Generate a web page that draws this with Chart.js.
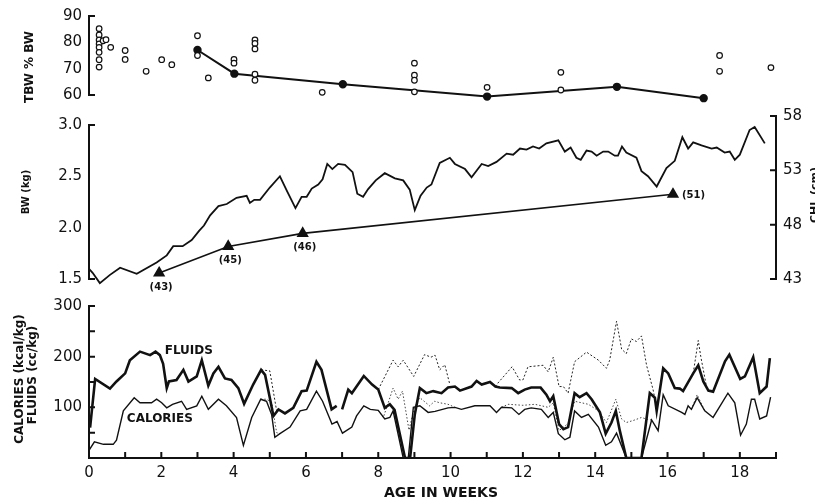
<!DOCTYPE html>
<html>
<head>
<meta charset="utf-8">
<script src="https://cdn.jsdelivr.net/npm/chart.js@4.4.0/dist/chart.umd.min.js"></script>
<style>
body { margin: 0; background: #fff; }
#wrap { position: relative; width: 815px; height: 504px; overflow: hidden; background: #fff; }
canvas { position: absolute; left: 0; }
</style>
</head>
<body>
<div id="wrap">
  <canvas id="tbw" width="815" height="112" style="top:0px"></canvas>
  <canvas id="bw" width="815" height="195" style="top:100px"></canvas>
  <canvas id="intake" width="815" height="214" style="top:290px"></canvas>
</div>
<script>
// ---- data (age in weeks) ----
var tbwWeeks = [0.28,0.28,0.28,0.28,0.28,0.28,0.28,0.28,0.39,0.47,0.6,1.0,1.0,1.58,2.01,2.29,3.0,3.0,3.3,4.01,4.01,
                4.59,4.59,4.59,4.59,4.59,6.45,9.0,9.0,9.0,9.0,11.01,13.05,13.05,17.44,17.44,17.44,18.86];
var tbwValues = [85.2,82.8,80.9,79.4,78.1,76.2,73.4,70.6,80.6,81.0,78.1,76.9,73.5,69.0,73.4,71.5,82.5,75.0,66.5,73.5,72.1,
                 80.9,79.6,77.5,67.9,65.6,61.0,72.1,67.5,65.6,61.2,62.9,68.6,61.9,75.0,69.0,56.5,70.4];
var tbwMeanWeeks = [3.0, 4.02, 7.02, 11.01, 14.6, 17.0];
var tbwMeanValues = [77.1, 68.1, 64.1, 59.4, 63.1, 58.8];
var tbwTicks = [60, 70, 80, 90];

var bwWeeks = [0,0.1,0.3,0.58,0.86,1.32,1.87,2.15,2.33,2.59,2.84,3.05,3.18,3.35,3.58,3.81,4.08,4.36,4.45,4.57,4.73,
  5.0,5.28,5.47,5.71,5.88,6.02,6.16,6.34,6.46,6.59,6.73,6.89,7.08,7.29,7.42,7.58,7.72,7.93,8.18,8.46,8.69,8.87,
  9.01,9.17,9.34,9.47,9.70,9.98,10.12,10.40,10.58,10.86,11.04,11.27,11.55,11.73,11.92,12.10,12.28,12.45,12.65,
  12.98,13.16,13.32,13.48,13.60,13.76,13.90,14.04,14.22,14.36,14.54,14.63,14.74,14.86,15.14,15.28,15.46,15.70,
  15.97,16.20,16.41,16.57,16.71,16.94,17.22,17.36,17.58,17.72,17.86,18.0,18.27,18.41,18.69];
var bwValues = [1.60,1.56,1.46,1.54,1.61,1.55,1.66,1.73,1.82,1.82,1.88,1.97,2.02,2.12,2.21,2.23,2.29,2.31,2.24,2.27,2.27,
  2.39,2.50,2.36,2.19,2.30,2.30,2.38,2.42,2.47,2.62,2.57,2.62,2.61,2.54,2.33,2.30,2.375,2.46,2.53,2.48,2.46,2.37,
  2.17,2.31,2.39,2.42,2.63,2.68,2.62,2.57,2.49,2.62,2.60,2.64,2.72,2.71,2.77,2.76,2.79,2.77,2.82,
  2.85,2.74,2.78,2.68,2.66,2.75,2.74,2.70,2.74,2.74,2.70,2.70,2.79,2.73,2.68,2.55,2.50,2.40,
  2.58,2.65,2.88,2.77,2.83,2.80,2.77,2.78,2.73,2.74,2.66,2.71,2.95,2.98,2.82];
var bwTicks = [1.5, 2.0, 2.5, 3.0];

var chlWeeks = [1.94, 3.85, 5.91, 16.15];
var chlValues = [43.55, 46.0, 47.2, 50.8];
var chlLabels = ['(43)', '(45)', '(46)', '(51)'];
var chlTicks = [43, 48, 53, 58];

var fluidWeeks = [0.03,0.17,0.58,0.76,1.0,1.13,1.41,1.69,1.84,1.96,2.05,2.15,2.21,2.42,2.61,2.75,2.98,3.12,3.30,3.44,3.58,
  3.76,3.94,4.13,4.29,4.54,4.76,4.87,5.0,5.10,5.24,5.42,5.65,5.88,6.02,6.29,6.43,6.71,6.85,6.92,7.0,7.17,7.27,7.60,
  7.83,8.0,8.18,8.32,8.45,8.74,8.88,9.01,9.15,9.33,9.52,9.75,9.93,10.12,10.26,10.58,10.72,10.86,11.09,11.24,11.36,
  11.69,11.87,12.05,12.23,12.49,12.65,12.75,12.84,13.0,13.12,13.25,13.43,13.57,13.76,13.90,14.13,14.29,14.45,14.57,
  14.68,14.86,15.28,15.51,15.65,15.70,15.88,16.02,16.20,16.34,16.43,16.71,16.85,16.99,17.13,17.26,17.59,17.71,
  18.01,18.14,18.37,18.55,18.74,18.83];
var fluidValues = [60,156,137,151,167,193,210,203,210,203,186,138,151,154,174,151,161,193,143,167,180,
  157,154,138,107,145,174,164,119,83,96,88,99,132,133,190,174,96,103,null,96,135,128,162,
  145,135,99,106,95,0,0,86,138,128,132,128,139,141,133,141,152,145,150,141,139,
  138,128,135,139,139,125,112,122,67,57,61,128,120,128,116,90,48,70,93,
  54,0,0,128,119,93,177,167,138,137,132,167,183,151,133,131,191,204,
  156,161,199,128,141,197];

var calWeeks = [0,0.15,0.40,0.67,0.76,0.95,1.25,1.41,1.73,1.87,2.01,2.15,2.31,2.56,2.70,2.98,3.12,3.30,3.58,3.80,4.08,
  4.27,4.50,4.75,4.91,5.05,5.14,5.28,5.56,5.84,6.02,6.29,6.46,6.72,6.86,7.01,7.27,7.40,7.60,7.78,8.0,8.18,8.32,
  8.41,8.69,8.83,8.97,9.15,9.38,9.57,9.93,10.12,10.30,10.67,11.09,11.27,11.41,11.69,11.89,12.05,12.23,12.51,12.70,
  12.84,12.98,13.16,13.30,13.43,13.62,13.81,14.09,14.29,14.45,14.59,14.86,15.28,15.56,15.74,15.88,16.02,16.39,
  16.48,16.57,16.66,16.82,17.03,17.26,17.67,17.86,18.02,18.18,18.32,18.41,18.55,18.74,18.85];
var calValues = [15,32,27,27,35,93,119,109,109,116,109,99,106,112,96,103,122,96,116,103,80,
  25,80,116,112,86,41,48,61,93,96,132,112,67,72,49,61,83,103,96,94,77,80,
  93,0,0,100,103,90,92,99,100,96,103,103,90,100,99,86,96,99,96,80,
  90,48,36,41,93,80,86,61,25,32,49,0,0,75,54,125,103,90,
  86,103,96,119,93,80,128,109,45,67,116,116,77,83,120];

// total intake (dotted), only where it departs from the oral line
var fluidTotWeeks = [4.76,5.0,5.19,5.28, 5.5, 8.0,8.41,8.55,8.69,8.98,9.28,9.46,9.57,9.70,9.84,9.98, 10.5,
  11.24,11.31,11.70,11.91,12.0,12.14,12.56,12.70,12.84,13.0,13.12,13.25,13.43,13.76,14.09,14.31,14.40,14.59,
  14.73,14.86,15.0,15.14,15.28,15.42,15.60,15.70, 16.0, 16.71,16.85,16.92,17.08,17.13];
var fluidTotValues = [174,172,93,96, null, 135,193,180,193,161,204,199,203,174,184,145, null,
  141,148,180,154,154,180,183,170,199,141,141,128,190,209,193,177,193,270,
  215,206,235,230,241,183,135,99, null, 167,232,200,140,133];
var calTotWeeks = [4.75,4.91,5.05,5.19,5.28, 5.5, 8.0,8.14,8.41,8.55,8.67,8.85,9.0,9.15,9.42,9.56,9.70,9.93,10.12, 10.5,
  11.41,11.59,12.0,12.33,12.70,12.84,13.0,13.25,13.43,13.81,14.09,14.31,14.57,14.73,14.86,15.05,15.28,15.45,15.56,
  16.0, 16.66,16.82,17.03];
var calTotValues = [116,116,110,50,48, null, 94,80,138,116,132,55,100,119,103,112,109,106,100, null,
  100,106,104,106,100,109,54,68,112,106,93,70,116,77,70,74,80,76,75,
  null, 96,125,93];

var intakeTicks = [100, 200, 300];
var intakeMarks = [50, 100, 150, 200, 250, 300];
var weekLabels = [0, 2, 4, 6, 8, 10, 12, 14, 16, 18];
var weekMarks = [1,2,3,4,5,6,7,8,9,10,11,12,13,14,15,16,17,18,19];

function pts(xs, ys) {
  return xs.map(function(x, i) { return { x: x, y: ys[i] }; });
}

var INK = '#111';
var tickFont = { family: 'DejaVu Sans', size: 15 };

// axis lines with tick marks pointing into the plot, as in the original
function axesPlugin(specs) {
  return {
    id: 'inwardAxes',
    afterDraw: function(chart) {
      var ctx = chart.ctx, area = chart.chartArea;
      ctx.save();
      ctx.strokeStyle = INK;
      ctx.lineWidth = 2;
      specs.forEach(function(a) {
        var s = chart.scales[a.id];
        ctx.beginPath();
        if (s.isHorizontal()) {
          var y = area.bottom;
          ctx.moveTo(s.getPixelForValue(a.from) - 1, y);
          ctx.lineTo(s.getPixelForValue(a.to) + 1, y);
          a.marks.forEach(function(v) {
            var x = s.getPixelForValue(v);
            ctx.moveTo(x, y); ctx.lineTo(x, y - 6);
          });
        } else {
          var x = a.dir > 0 ? area.left : area.right;
          ctx.moveTo(x, s.getPixelForValue(a.from) + 1);
          ctx.lineTo(x, s.getPixelForValue(a.to) - 1);
          a.marks.forEach(function(v) {
            var yy = s.getPixelForValue(v);
            ctx.moveTo(x, yy); ctx.lineTo(x + a.dir * 6, yy);
          });
        }
        ctx.stroke();
      });
      ctx.restore();
    }
  };
}

// free text: fixed spots, or anchored to data values
function textPlugin(items) {
  return {
    id: 'texts',
    afterDraw: function(chart) {
      var ctx = chart.ctx;
      items.forEach(function(t) {
        var x = t.x, y = t.y;
        if (t.xv !== undefined) {
          x = chart.scales.x.getPixelForValue(t.xv) + (t.dx || 0);
          y = chart.scales[t.axis || 'y'].getPixelForValue(t.yv) + (t.dy || 0);
        }
        ctx.save();
        ctx.translate(x, y);
        if (t.rot) ctx.rotate(t.rot);
        ctx.font = t.f;
        ctx.fillStyle = INK;
        ctx.textAlign = t.align || 'center';
        ctx.textBaseline = 'middle';
        ctx.fillText(t.text, 0, 0);
        ctx.restore();
      });
    }
  };
}

function hiddenX() {
  return { type: 'linear', min: 0, max: 19, display: false };
}
function leftY(min, max, ticks, fmt) {
  return {
    type: 'linear', position: 'left', min: min, max: max,
    grid: { display: false, drawTicks: false }, border: { display: false },
    afterFit: function(s) { s.width = 89; },
    afterBuildTicks: function(s) { s.ticks = ticks.map(function(v) { return { value: v }; }); },
    ticks: { padding: 7, color: INK, font: tickFont, callback: fmt || function(v) { return v; } }
  };
}

var common = {
  responsive: false,
  animation: false,
  events: [],
  plugins: { legend: { display: false }, tooltip: { enabled: false } },
  elements: { line: { tension: 0 } }
};
function opts(extra) {
  return Object.assign({}, common, extra);
}

// ---- top panel: total body water ----
new Chart(document.getElementById('tbw'), {
  type: 'line',
  data: {
    datasets: [{
      data: pts(tbwWeeks, tbwValues),
      showLine: false, clip: false,
      pointRadius: 2.8, pointBorderWidth: 1.2,
      pointBorderColor: INK, pointBackgroundColor: '#fff'
    }, {
      data: pts(tbwMeanWeeks, tbwMeanValues),
      borderColor: INK, borderWidth: 2, clip: false,
      pointRadius: 3.2, pointBackgroundColor: INK, pointBorderColor: INK
    }]
  },
  options: opts({
    layout: { padding: { left: 0, right: 39, top: 15, bottom: 17 } },
    scales: { x: hiddenX(), y: leftY(60, 90, tbwTicks) }
  }),
  plugins: [
    axesPlugin([{ id: 'y', from: 60, to: 90, marks: [60, 90], dir: 1 }]),
    textPlugin([{ text: 'TBW % BW', x: 30, y: 67, rot: -Math.PI / 2, f: 'bold 12px DejaVu Sans' }])
  ]
});

// ---- middle panel: body weight and crown-heel length ----
var bwScale = leftY(1.5, 1.5 + 165 / 104, bwTicks, function(v) { return v.toFixed(1); });
var chlItems = chlLabels.map(function(lab, i) {
  var last = i === chlLabels.length - 1;
  return { text: lab, xv: chlWeeks[i], yv: chlValues[i], axis: 'y1',
           dx: last ? 9 : 2, dy: last ? 1 : 14, align: last ? 'left' : 'center',
           f: 'bold 10px DejaVu Sans' };
});
new Chart(document.getElementById('bw'), {
  type: 'line',
  data: {
    datasets: [{
      data: pts(bwWeeks, bwValues), yAxisID: 'y',
      borderColor: INK, borderWidth: 1.8, pointRadius: 0, clip: false
    }, {
      data: pts(chlWeeks, chlValues), yAxisID: 'y1',
      borderColor: INK, borderWidth: 1.6, clip: false,
      pointStyle: 'triangle', pointRadius: 5.5,
      pointBackgroundColor: INK, pointBorderColor: INK
    }]
  },
  options: opts({
    layout: { padding: { left: 0, right: 0, top: 16, bottom: 14 } },
    scales: {
      x: hiddenX(),
      y: bwScale,
      y1: {
        type: 'linear', position: 'right', min: 43, max: 58,
        grid: { display: false, drawTicks: false }, border: { display: false },
        afterFit: function(s) { s.width = 39; },
        afterBuildTicks: function(s) { s.ticks = chlTicks.map(function(v) { return { value: v }; }); },
        ticks: { padding: 7, color: INK, font: tickFont }
      }
    }
  }),
  plugins: [
    axesPlugin([
      { id: 'y', from: 1.5, to: 3.0, marks: [1.5, 3.0], dir: 1 },
      { id: 'y1', from: 43, to: 58, marks: chlTicks, dir: -1 }
    ]),
    textPlugin([
      { text: 'BW (kg)', x: 26, y: 92, rot: -Math.PI / 2, f: 'bold 10px DejaVu Sans' },
      { text: 'CHL (cm)', x: 815, y: 95, rot: -Math.PI / 2, f: 'bold 11px DejaVu Sans' }
    ].concat(chlItems))
  ]
});

// ---- bottom panel: calorie and fluid intake ----
new Chart(document.getElementById('intake'), {
  type: 'line',
  data: {
    datasets: [{
      data: pts(fluidWeeks, fluidValues),
      borderColor: INK, borderWidth: 2.6, pointRadius: 0, spanGaps: false
    }, {
      data: pts(calWeeks, calValues),
      borderColor: INK, borderWidth: 1.4, pointRadius: 0
    }, {
      data: pts(fluidTotWeeks, fluidTotValues),
      borderColor: '#222', borderWidth: 1, borderDash: [2, 2], pointRadius: 0, spanGaps: false
    }, {
      data: pts(calTotWeeks, calTotValues),
      borderColor: '#444', borderWidth: 1, borderDash: [1.5, 2], pointRadius: 0, spanGaps: false
    }]
  },
  options: opts({
    layout: { padding: { left: 0, right: 39, top: 13, bottom: 0 } },
    scales: {
      x: {
        type: 'linear', min: 0, max: 19,
        grid: { display: false, drawTicks: false }, border: { display: false },
        afterFit: function(s) { s.height = 46; },
        afterBuildTicks: function(s) { s.ticks = weekLabels.map(function(v) { return { value: v }; }); },
        ticks: { padding: 6, color: INK, font: tickFont, maxRotation: 0, autoSkip: false }
      },
      y: leftY(0, 300, intakeTicks)
    }
  }),
  plugins: [
    axesPlugin([
      { id: 'y', from: 0, to: 300, marks: intakeMarks, dir: 1 },
      { id: 'x', from: 0, to: 19, marks: weekMarks, dir: -1 }
    ]),
    textPlugin([
      { text: 'CALORIES (kcal/kg)', x: 20, y: 89, rot: -Math.PI / 2, f: 'bold 12px DejaVu Sans' },
      { text: 'FLUIDS (cc/kg)', x: 33, y: 85, rot: -Math.PI / 2, f: 'bold 12px DejaVu Sans' },
      { text: 'AGE IN WEEKS', x: 441, y: 203, f: 'bold 14px DejaVu Sans' },
      { text: 'FLUIDS', xv: 2.76, yv: 211, f: 'bold 12px DejaVu Sans' },
      { text: 'CALORIES', xv: 1.96, yv: 77, f: 'bold 12px DejaVu Sans' }
    ])
  ]
});
</script>
</body>
</html>
